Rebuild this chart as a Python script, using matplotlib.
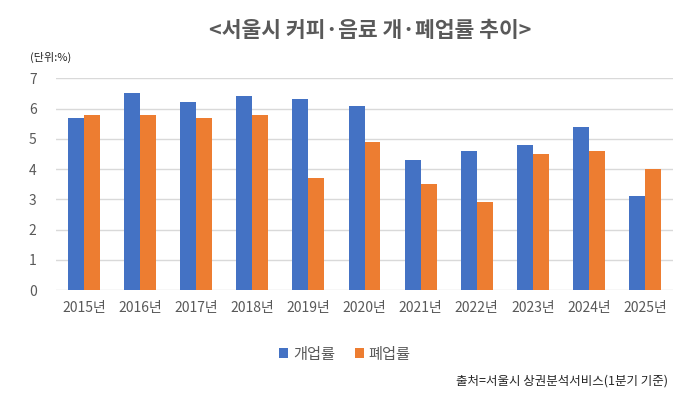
import matplotlib
matplotlib.use('Agg')
import matplotlib.pyplot as plt
import numpy as np

plt.rcParams['font.family'] = ['Noto Sans CJK KR', 'DejaVu Sans']

# data
years = ['2015년', '2016년', '2017년', '2018년', '2019년', '2020년',
         '2021년', '2022년', '2023년', '2024년', '2025년']
open_rate = [5.7, 6.5, 6.2, 6.4, 6.3, 6.1, 4.3, 4.6, 4.8, 5.4, 3.1]   # 개업률
close_rate = [5.8, 5.8, 5.7, 5.8, 3.7, 4.9, 3.5, 2.9, 4.5, 4.6, 4.0]  # 폐업률

blue = '#4472c4'
orange = '#ed7d31'
grey = '#595959'

fig = plt.figure(figsize=(6.95, 3.97), dpi=100)
ax = fig.add_axes([56/695, 1-290/397, (673-56)/695, (290-78.3)/397])

x = np.arange(len(years))
w = 0.285
ax.bar(x - w/2, open_rate, w, color=blue, label='개업률', zorder=3)
ax.bar(x + w/2, close_rate, w, color=orange, label='폐업률', zorder=3)

ax.set_xlim(-0.5, len(years) - 0.5)
ax.set_ylim(0, 7)
ax.set_yticks(range(0, 8))
ax.set_xticks(x)
ax.set_xticklabels(years)
ax.grid(axis='y', color='#d9d9d9', linewidth=1, zorder=0)
for s in ax.spines.values():
    s.set_visible(False)
ax.tick_params(length=0, colors=grey, labelsize=10)
ax.tick_params(axis='y', pad=14)
ax.tick_params(axis='x', pad=8)

fig.text(0.532, 0.922, '<서울시 커피·음료 개·폐업률 추이>', ha='center', va='center',
         fontsize=15.5, fontweight='bold', color=grey)
fig.text(30/695, 1-57/397, '(단위:%)', ha='left', va='center', fontsize=8, color='#262626')

ax.legend(loc='center', bbox_to_anchor=(345/695, 1-354/397), bbox_transform=fig.transFigure,
          ncol=2, frameon=False, fontsize=11, handlelength=0.6, handleheight=0.6,
          handletextpad=0.3, columnspacing=1.3, labelcolor=grey)

fig.text(668/695, 1-381/397, '출처=서울시 상권분석서비스(1분기 기준)', ha='right', va='center',
         fontsize=9, color='#262626')

fig.savefig('out.png', dpi=100)
